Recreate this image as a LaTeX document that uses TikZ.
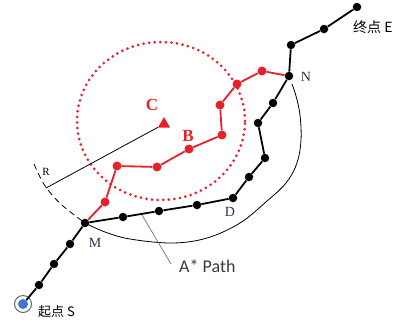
\documentclass[tikz,border=0pt]{standalone}
\usepackage{fontspec}
\setmainfont{Liberation Serif}
\newfontfamily\cjkfont{Noto Sans CJK SC}
\newfontfamily\calfont{Carlito}
\usetikzlibrary{shapes.geometric}
\definecolor{myred}{HTML}{E8202A}
\definecolor{lbl}{HTML}{2A3050}
\definecolor{sblue}{HTML}{3A78C8}
\definecolor{callout}{HTML}{808080}
\definecolor{atext}{HTML}{3A3A3A}
\begin{document}
\begin{tikzpicture}[x=1pt,y=-1pt,
  bdot/.style={circle,fill=black,inner sep=0pt,minimum size=8.5pt},
  rdot/.style={circle,fill=myred,inner sep=0pt,minimum size=9pt},
  bline/.style={line width=1.8pt,black},
  rline/.style={line width=1.8pt,myred},
  lab/.style={font=\fontsize{14}{14}\selectfont,text=lbl,inner sep=0pt},
  redlab/.style={font=\fontsize{17}{17}\selectfont\bfseries,text=myred,inner sep=0pt},
  arcline/.style={line width=0.8pt,black},
]
\useasboundingbox (0,0) rectangle (393,322);

% dotted search circle
\draw[myred,line width=3pt,line cap=round,dash pattern=on 0pt off 5.6pt]
  (161,121) ellipse [x radius=84pt, y radius=79pt];

% big arc
\draw[arcline,dash pattern=on 6pt off 4pt]
  plot[smooth,tension=0.6] coordinates {(34,164) (40,177) (48,190) (63,206) (85,223)};
\draw[arcline]
  plot[smooth,tension=0.6] coordinates {(85,223) (105,232) (130,239) (172,243) (207,238) (240,223) (267,201) (286,183) (297,163) (301,140) (300,115) (296,96) (292,84)};

% black nodes
\node[circle,fill=sblue,inner sep=0pt,minimum size=10pt] (S) at (23,304) {};
\draw[line width=1pt,black!60] (S.center) circle (8.5pt);
\node[bdot] (s1) at (39,285) {};
\node[bdot] (s2) at (54,264) {};
\node[bdot] (s3) at (70,244) {};
\node[bdot] (M) at (85,223) {};
\node[bdot] (d1) at (123,217) {};
\node[bdot] (d2) at (159,211) {};
\node[bdot] (d3) at (197,205) {};
\node[bdot] (D) at (233,198) {};
\node[bdot] (n1) at (249,177) {};
\node[bdot] (n2) at (265,158) {};
\node[bdot] (n3) at (258,123) {};
\node[bdot] (n4) at (273,103) {};
\node[bdot] (N) at (289,76) {};
\node[bdot] (e1) at (291,45) {};
\node[bdot] (e2) at (324,29) {};
\node[bdot] (E) at (357,7) {};

% red nodes
\node[rdot] (r1) at (105,202) {};
\node[rdot] (r2) at (117,166) {};
\node[rdot] (r3) at (157,167) {};
\node[rdot] (B) at (189,149) {};
\node[rdot] (r5) at (222,135) {};
\node[rdot] (r6) at (220,105) {};
\node[rdot] (r7) at (237,84) {};
\node[rdot] (r8) at (262,71) {};

% goal triangle
\node[regular polygon,regular polygon sides=3,fill=myred,inner sep=0pt,minimum size=14pt] (C) at (164,124) {};

% radius line
\coordinate (Rend) at (46,188);
\draw[line width=0.8pt,black] (C) -- (Rend);

% black path
\draw[bline] (S) -- (s1) -- (s2) -- (s3) -- (M) -- (d1) -- (d2) -- (d3) -- (D)
  -- (n1) -- (n2) -- (n3) -- (n4) -- (N) -- (e1) -- (e2) -- (E);
% red path
\draw[rline] (M) -- (r1) -- (r2) -- (r3) -- (B) -- (r5) -- (r6) -- (r7) -- (r8) -- (N);

% labels
\node[redlab] (Clab) at (152,105) {C};
\node[redlab] (Blab) at (188,136) {B};
\node[lab] (Nlab) at (306,77) {N};
\node[lab] (Mlab) at (95,243) {M};
\node[lab] (Dlab) at (230,212) {D};
\node[font=\fontsize{11}{11}\selectfont,inner sep=0pt] (Rlab) at (46,172) {R};
\node[font=\cjkfont\fontsize{13}{13}\selectfont,anchor=west,inner sep=0pt] (Slab) at (38,312) {起点 S};
\node[font=\cjkfont\fontsize{14}{14}\selectfont,anchor=west,inner sep=0pt] (Elab) at (353,27) {终点 E};

% A* Path callout
\node[font=\calfont\fontsize{18}{18}\selectfont,text=atext,anchor=west,inner sep=0pt] (Alab) at (179,266) {A* Path};
\coordinate (Apt) at (142,215);
\coordinate (Aend) at (171,264);
\draw[callout,line width=0.8pt] (Apt) -- (Aend);
\end{tikzpicture}
\end{document}
